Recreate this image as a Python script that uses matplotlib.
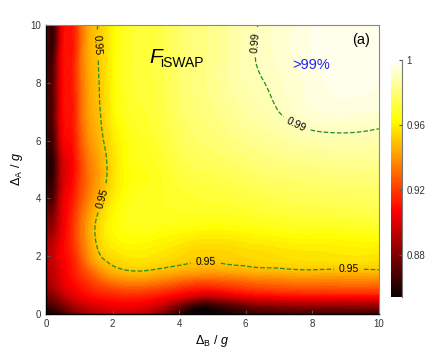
import numpy as np
import matplotlib
matplotlib.use("Agg")
import matplotlib.pyplot as plt
import matplotlib.tri as mtri
from matplotlib.colors import Normalize
from matplotlib.cm import ScalarMappable

# grid nodes (Delta_B across, Delta_A up)
delta_b = [0, 0.15, 0.4, 0.7, 1, 1.5, 2, 3, 4, 4.6, 5.5, 6.5, 8, 10]
delta_a = [0, 0.25, 0.6, 1, 1.5, 2, 3, 4, 5, 6, 7, 8, 9, 10]

# fidelity, one row per delta_a value
fidelity = [
    [0.855, 0.856, 0.862, 0.872, 0.880, 0.890, 0.895, 0.890, 0.864, 0.856, 0.860, 0.866, 0.866, 0.863],
    [0.865, 0.866, 0.872, 0.882, 0.890, 0.898, 0.902, 0.900, 0.875, 0.858, 0.866, 0.877, 0.881, 0.880],
    [0.878, 0.878, 0.886, 0.896, 0.903, 0.910, 0.913, 0.913, 0.902, 0.893, 0.897, 0.905, 0.908, 0.908],
    [0.888, 0.888, 0.897, 0.905, 0.911, 0.920, 0.927, 0.930, 0.922, 0.918, 0.921, 0.926, 0.929, 0.929],
    [0.893, 0.892, 0.900, 0.909, 0.918, 0.934, 0.946, 0.950, 0.945, 0.943, 0.944, 0.947, 0.949, 0.949],
    [0.895, 0.894, 0.903, 0.911, 0.923, 0.946, 0.955, 0.958, 0.954, 0.952, 0.953, 0.955, 0.957, 0.957],
    [0.888, 0.882, 0.897, 0.912, 0.928, 0.951, 0.962, 0.966, 0.964, 0.963, 0.963, 0.965, 0.967, 0.968],
    [0.878, 0.866, 0.890, 0.908, 0.922, 0.943, 0.958, 0.967, 0.969, 0.970, 0.971, 0.973, 0.975, 0.976],
    [0.870, 0.857, 0.885, 0.903, 0.918, 0.939, 0.955, 0.966, 0.972, 0.974, 0.976, 0.979, 0.981, 0.982],
    [0.875, 0.862, 0.893, 0.908, 0.922, 0.944, 0.957, 0.968, 0.975, 0.978, 0.981, 0.984, 0.9875, 0.9875],
    [0.877, 0.866, 0.897, 0.910, 0.925, 0.947, 0.960, 0.970, 0.977, 0.980, 0.984, 0.988, 0.9935, 0.9935],
    [0.877, 0.866, 0.897, 0.911, 0.926, 0.948, 0.961, 0.971, 0.978, 0.981, 0.986, 0.9898, 0.995, 0.996],
    [0.875, 0.862, 0.895, 0.910, 0.926, 0.949, 0.961, 0.971, 0.978, 0.981, 0.986, 0.9908, 0.996, 0.997],
    [0.872, 0.857, 0.892, 0.909, 0.925, 0.949, 0.961, 0.971, 0.978, 0.981, 0.986, 0.9905, 0.996, 0.997],
]

contour_levels = [0.95, 0.99]
cbar_ticks = [0.88, 0.92, 0.96, 1.0]
cbar_labels = ["0.88", "0.92", "0.96", "1"]
ticks = [0, 2, 4, 6, 8, 10]

plt.rcParams["font.family"] = ["Liberation Sans", "DejaVu Sans"]
plt.rcParams["mathtext.fontset"] = "custom"
plt.rcParams["mathtext.rm"] = "Liberation Sans"
plt.rcParams["mathtext.it"] = "Liberation Sans:italic"

xx, yy = np.meshgrid(delta_b, delta_a)
zz = np.array(fidelity)
ny, nx = zz.shape
idx = np.arange(nx * ny).reshape(ny, nx)
tris = []
for j in range(ny - 1):
    for i in range(nx - 1):
        a, b, c, d = idx[j, i], idx[j, i + 1], idx[j + 1, i], idx[j + 1, i + 1]
        tris += [[a, b, d], [a, d, c]]
tri = mtri.Triangulation(xx.ravel(), yy.ravel(), np.array(tris))
interp = mtri.CubicTriInterpolator(tri, zz.ravel(), kind="min_E")
tri_f, z_f = mtri.UniformTriRefiner(tri).refine_field(zz.ravel(), triinterpolator=interp, subdiv=4)

norm = Normalize(vmin=0.854, vmax=1.0)

fig = plt.figure(figsize=(4.32, 3.52), dpi=100)
ax = fig.add_axes([0.1065, 0.108, 0.7705, 0.821])
ax.tricontourf(tri_f, z_f, levels=np.linspace(0.85, 1.0, 76), cmap="hot", norm=norm, extend="both")
cs = ax.tricontour(tri_f, z_f, levels=contour_levels, colors="#1f8f1f", linewidths=0.9, linestyles="--")
labels = ax.clabel(cs, fmt="%.2f", fontsize=7.5, inline=True, colors="k",
                   manual=[(1.6, 9.3), (1.75, 4.0), (4.8, 1.85), (9.1, 1.56), (6.35, 9.4), (7.6, 6.75)])

ax.set_xlim(0, 10)
ax.set_ylim(0, 10)
ax.set_xticks(ticks)
ax.set_yticks(ticks)
ax.tick_params(direction="in", length=3, labelsize=7, labelcolor="#333333", color="#555555")
for side in ["left", "bottom"]:
    ax.spines[side].set_linewidth(1.0)
for side in ["top", "right"]:
    ax.spines[side].set_color("#888888")
    ax.spines[side].set_linewidth(0.8)
ax.set_xlabel(r"$\Delta_{\rm B}\ /\ g$", fontsize=9, labelpad=3)
ax.set_ylabel(r"$\Delta_{\rm A}\ /\ g$", fontsize=9, labelpad=4)

ax.text(3.1, 8.69, "F", fontsize=15, style="italic")
ax.text(3.42, 8.55, "iSWAP", fontsize=10)
ax.text(7.96, 8.6, ">99%", color="#2020ff", fontsize=10.5, ha="center", va="center")
ax.text(9.46, 9.48, "(a)", fontsize=10.5, ha="center", va="center")

cax = fig.add_axes([0.905, 0.156, 0.025, 0.674])
cb = fig.colorbar(ScalarMappable(norm=norm, cmap="hot"), cax=cax, ticks=cbar_ticks)
cb.ax.set_yticklabels(cbar_labels)
cb.outline.set_visible(False)
cax.tick_params(direction="in", length=2, labelsize=7, labelcolor="#333333", color="#555555")
cax.plot([1, 1], [0, 1], transform=cax.transAxes, color="#777777", lw=0.8, clip_on=False)

fig.savefig("out.png", dpi=100)
